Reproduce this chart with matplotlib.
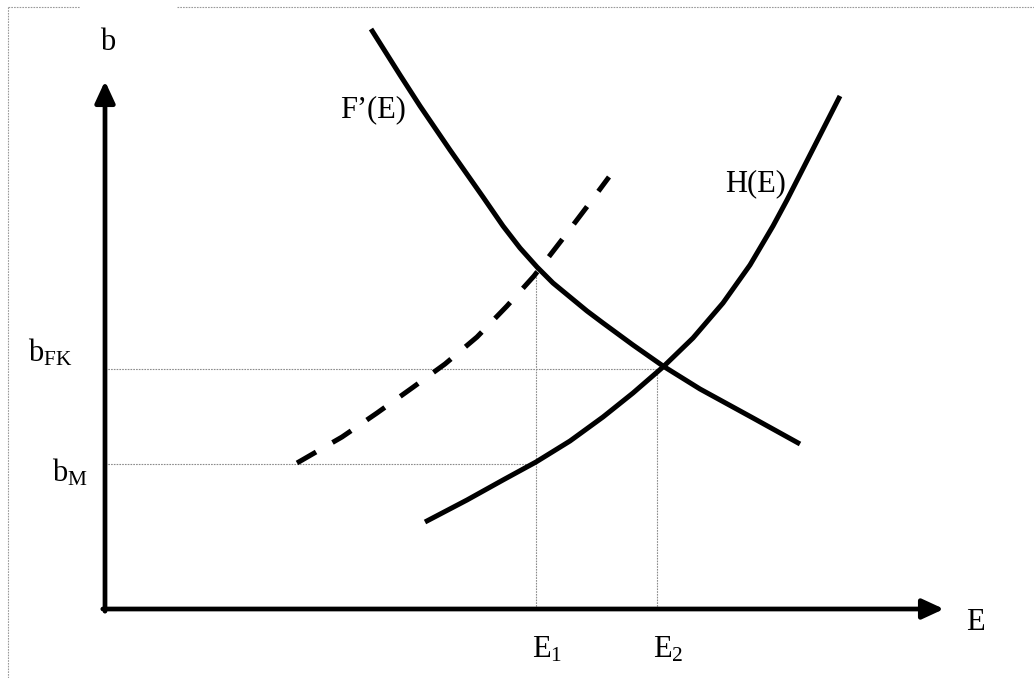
import matplotlib
matplotlib.use("Agg")
import matplotlib.pyplot as plt
from matplotlib.lines import Line2D

plt.rcParams.update({
    "font.family": "Liberation Serif",
    "mathtext.fontset": "custom",
    "mathtext.rm": "Liberation Serif",
    "mathtext.it": "Liberation Serif:italic",
    "font.size": 22,
})

# curves (E on the x axis, b on the y axis)
f_E = [2.66, 2.95, 3.15, 3.45, 3.78, 3.98, 4.15, 4.32, 4.48, 4.65, 4.82, 4.98, 5.28, 5.58, 5.95, 6.48, 6.95]
f_b = [5.80, 5.34, 5.03, 4.59, 4.12, 3.83, 3.61, 3.42, 3.26, 3.12, 2.98, 2.86, 2.64, 2.43, 2.20, 1.91, 1.65]

h_E = [3.20, 3.62, 3.98, 4.31, 4.65, 4.98, 5.28, 5.58, 5.88, 6.18, 6.45, 6.68, 6.82, 7.08, 7.35]
h_b = [0.87, 1.09, 1.29, 1.47, 1.68, 1.92, 2.16, 2.42, 2.71, 3.06, 3.44, 3.83, 4.09, 4.60, 5.13]

dash_E = [1.92, 2.37, 2.72, 3.07, 3.40, 3.72, 4.02, 4.29, 4.56, 4.81, 5.04]
dash_b = [1.46, 1.72, 1.96, 2.21, 2.45, 2.72, 3.03, 3.33, 3.68, 4.01, 4.32]

E1, E2 = 4.31, 5.52
b_M, b_FK = 1.45, 2.40
F_at_E1 = 3.41
E_max, b_max = 8.39, 5.28

fig = plt.figure(figsize=(10.34, 6.78), dpi=100)
ax = fig.add_axes([0, 0, 1, 1])
ax.set_xlim(-1.05, 9.29)
ax.set_ylim(-0.69, 6.09)
ax.axis("off")

# guide lines
guide = dict(color="#8c8c8c", lw=0.8, linestyle=(0, (1.5, 1)))
ax.plot([0, E1], [b_M, b_M], **guide)
ax.plot([0, E2], [b_FK, b_FK], **guide)
ax.plot([E1, E1], [0, F_at_E1], **guide)
ax.plot([E2, E2], [0, b_FK], **guide)

# axes with arrows
arrow = dict(arrowstyle="-|>,head_length=0.65,head_width=0.3", lw=3.4,
             color="black", shrinkA=0, shrinkB=0, mutation_scale=20)
ax.annotate("", xy=(E_max, 0), xytext=(-0.022, 0), arrowprops=arrow)
ax.annotate("", xy=(0, b_max), xytext=(0, -0.022), arrowprops=arrow)

# curves
ax.plot(f_E, f_b, color="black", lw=3.6, solid_capstyle="butt", solid_joinstyle="round")
ax.plot(h_E, h_b, color="black", lw=3.6, solid_capstyle="butt", solid_joinstyle="round")
ax.plot(dash_E, dash_b, color="black", lw=3.6, linestyle=(0, (4.4, 3.8)),
        dash_capstyle="butt", dash_joinstyle="round")

# labels
ax.text(-0.05, 5.59, "b", va="baseline", ha="left")
ax.text(2.35, 4.99, "F\u2019(E)", va="center", ha="left")
ax.text(6.20, 4.25, "H(E)", va="center", ha="left")
ax.text(-0.77, 2.47, r"b$_{\mathrm{FK}}$", va="baseline", ha="left")
ax.text(-0.53, 1.27, r"b$_{\mathrm{M}}$", va="baseline", ha="left")
ax.text(4.27, -0.48, r"E$_{\mathrm{1}}$", va="baseline", ha="left")
ax.text(5.48, -0.48, r"E$_{\mathrm{2}}$", va="baseline", ha="left")
ax.text(8.61, -0.21, "E", va="baseline", ha="left")

# dotted frame round the picture
frame = dict(color="#9a9a9a", lw=0.8, linestyle=(0, (1.5, 1)), transform=fig.transFigure)
top = 1 - 7 / 678
left = 8 / 1034
fig.add_artist(Line2D([left, 80 / 1034], [top, top], **frame))
fig.add_artist(Line2D([177 / 1034, 1], [top, top], **frame))
fig.add_artist(Line2D([left, left], [0, top], **frame))

fig.savefig("out.png", dpi=100)
